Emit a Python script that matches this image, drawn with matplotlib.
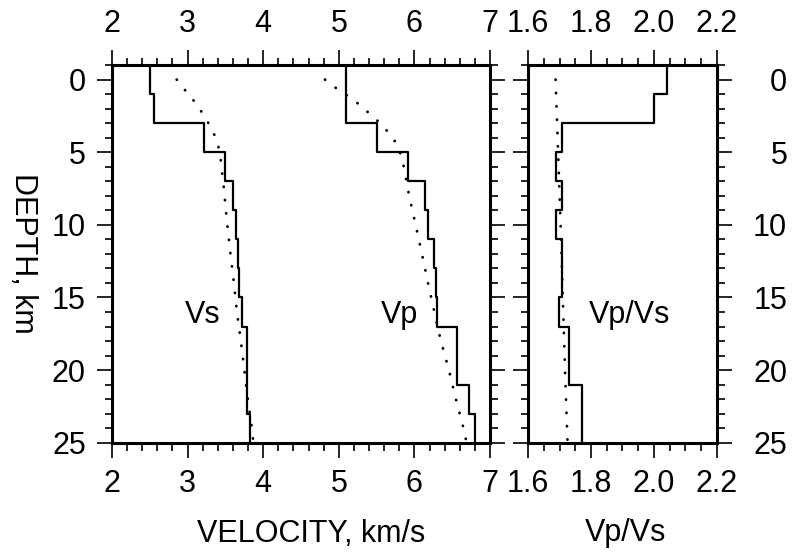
import numpy as np
import matplotlib
matplotlib.use("Agg")
import matplotlib.pyplot as plt
from matplotlib.ticker import MultipleLocator, FormatStrFormatter

plt.rcParams["font.family"] = ["Liberation Sans", "DejaVu Sans"]

# layered model (depth boundaries, km)
layer_bounds = [-1, 1, 3, 5, 7, 9, 11, 13, 15, 17, 19, 21, 23, 25]
vs_layers = [2.50, 2.55, 3.22, 3.50, 3.60, 3.64, 3.66, 3.675, 3.715, 3.78, 3.78, 3.78, 3.83]
vp_layers = [5.10, 5.10, 5.50, 5.92, 6.145, 6.18, 6.26, 6.29, 6.30, 6.56, 6.56, 6.72, 6.80]
ratio_layers = [2.043, 2.001, 1.708, 1.688, 1.708, 1.688, 1.708, 1.708, 1.699,
                1.730, 1.730, 1.770, 1.770]

# smooth reference model (dotted)
vs_ref_depth = [0, 0.73, 1.42, 2.13, 2.87, 3.62, 4.47, 5.32, 6.19, 7.07, 8.0,
                10.0, 12.0, 14.0, 16.0, 18.0, 20.0, 22.0, 24.0, 25.0]
vs_ref = [2.856, 2.966, 3.076, 3.173, 3.261, 3.340, 3.402, 3.433, 3.451, 3.472, 3.488,
          3.525, 3.567, 3.612, 3.652, 3.704, 3.751, 3.796, 3.850, 3.870]
vp_ref_depth = [0, 0.55, 1.03, 1.56, 2.13, 2.71, 3.35, 4.01, 4.80, 5.62, 6.47, 8.0,
                10.0, 12.0, 14.0, 16.0, 18.0, 20.0, 22.0, 24.0, 25.0]
vp_ref = [4.817, 4.954, 5.091, 5.232, 5.360, 5.488, 5.607, 5.717, 5.796, 5.845, 5.876,
          5.930, 6.016, 6.099, 6.180, 6.263, 6.350, 6.456, 6.548, 6.649, 6.690]
ratio_ref_depth = [0, 5, 10, 15, 20, 25]
ratio_ref = [1.687, 1.695, 1.703, 1.710, 1.717, 1.725]

FS = 22
LW = 1.6
DOT = dict(color="black", lw=2.0, linestyle=(0, (0.1, 4.7)), dash_capstyle="round")


def step_xy(bounds, vals):
    # each layer -> vertical segment from top to bottom
    d = np.repeat(bounds, 2)[1:-1]
    v = np.repeat(vals, 2)
    return v, d


def style_axis(ax):
    for s in ax.spines.values():
        s.set_linewidth(2.2)
    ax.set_ylim(25, -1)
    ax.yaxis.set_major_locator(MultipleLocator(5))
    ax.yaxis.set_minor_locator(MultipleLocator(1))
    ax.tick_params(which="both", direction="out", top=True, bottom=True,
                   left=True, right=True, labeltop=True, labelbottom=True,
                   width=1.2, labelsize=FS, pad=8)
    ax.tick_params(which="major", length=10.8)
    ax.tick_params(which="minor", length=5.4)


fig = plt.figure(figsize=(7.95, 5.55), dpi=100)
ax1 = fig.add_axes([0.1409, 0.2023, 0.4755, 0.6805])
ax2 = fig.add_axes([0.6645, 0.2023, 0.237, 0.6805])

# velocity panel
v, d = step_xy(layer_bounds, vs_layers)
ax1.plot(v, d, color="black", lw=LW)
v, d = step_xy(layer_bounds, vp_layers)
ax1.plot(v, d, color="black", lw=LW)
ax1.plot(vs_ref, vs_ref_depth, **DOT)
ax1.plot(vp_ref, vp_ref_depth, **DOT)
ax1.set_xlim(2, 7)
ax1.xaxis.set_major_locator(MultipleLocator(1))
ax1.xaxis.set_minor_locator(MultipleLocator(0.2))
style_axis(ax1)
ax1.tick_params(labelleft=True, labelright=False)
ax1.text(3.2, 16.75, "Vs", fontsize=FS, ha="center", va="baseline")
ax1.text(5.8, 16.75, "Vp", fontsize=FS, ha="center", va="baseline")

# Vp/Vs panel
v, d = step_xy(layer_bounds, ratio_layers)
ax2.plot(v, d, color="black", lw=LW)
ax2.plot(ratio_ref, ratio_ref_depth, **DOT)
ax2.set_xlim(1.6, 2.2)
ax2.set_xticks([1.6, 1.8, 2.0, 2.2])
ax2.xaxis.set_major_formatter(FormatStrFormatter("%.1f"))
ax2.xaxis.set_minor_locator(MultipleLocator(0.05))
style_axis(ax2)
ax2.set_yticks([0, 5, 10, 15, 20, 25])
ax2.tick_params(labelleft=False, labelright=True)
ax2.tick_params(axis="y", pad=40)
for t in ax2.yaxis.get_major_ticks():
    t.label2.set_horizontalalignment("right")
ax2.text(1.924, 16.75, "Vp/Vs", fontsize=FS, ha="center", va="baseline")

fig.text(197 / 795, 13 / 555, "VELOCITY, km/s", fontsize=FS, ha="left", va="baseline")
fig.text(626 / 795, 14 / 555, "Vp/Vs", fontsize=FS, ha="center", va="baseline")
fig.text(23 / 795, 1 - 253 / 555, "DEPTH, km", fontsize=FS, rotation=270,
         ha="center", va="center")

fig.savefig("out.png", dpi=100)
